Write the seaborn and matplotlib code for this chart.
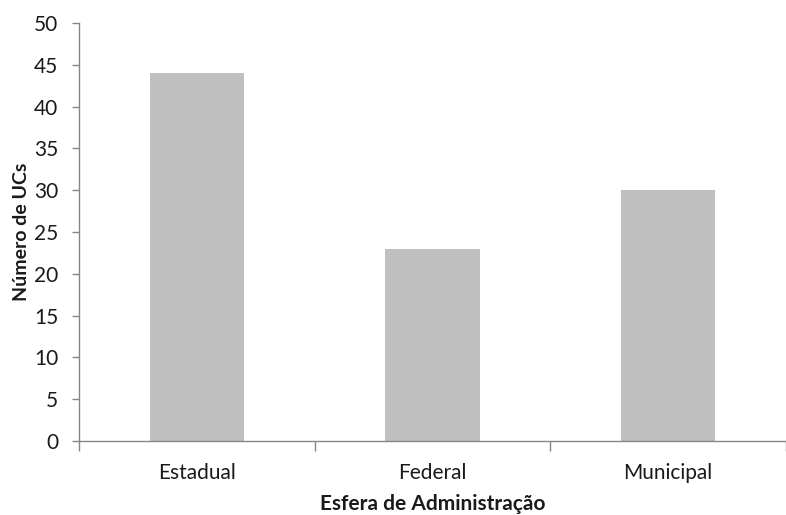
import matplotlib
matplotlib.use("Agg")
import matplotlib.pyplot as plt
from matplotlib.ticker import FixedLocator
import seaborn as sns
import pandas as pd

esferas = ["Estadual", "Federal", "Municipal"]
num_ucs = [44, 23, 30]
y_ticks = [0, 5, 10, 15, 20, 25, 30, 35, 40, 45, 50]

sns.set_theme(style="white")
plt.rcParams["font.family"] = ["Lato", "DejaVu Sans"]

df = pd.DataFrame({"esfera": esferas, "ucs": num_ucs})

fig = plt.figure(figsize=(7.86, 5.15), dpi=100)
ax = fig.add_axes([79 / 786, 1 - 441 / 515, 707 / 786, (441 - 23) / 515])

sns.barplot(data=df, x="esfera", y="ucs", color="#BFBFBF", saturation=1,
            width=0.4, ax=ax, edgecolor="none")

axis_color = "#868686"
text_color = "#1a1a1a"
fs = 15

ax.set_xlim(-0.5, len(esferas) - 0.5)
ax.set_ylim(0, 50)
ax.set_yticks(y_ticks)
ax.set_yticklabels([str(t) for t in y_ticks], fontsize=fs, color=text_color)

for side in ("top", "right"):
    ax.spines[side].set_visible(False)
for side in ("left", "bottom"):
    ax.spines[side].set_color(axis_color)
    ax.spines[side].set_linewidth(1.0)

ax.tick_params(axis="y", which="major", left=True, length=5, width=1,
               color=axis_color, direction="out", pad=10)
ax.tick_params(axis="x", which="major", bottom=False, length=0, pad=16,
               labelsize=fs, labelcolor=text_color)
ax.xaxis.set_minor_locator(FixedLocator([-0.5, 0.5, 1.5, 2.5]))
ax.tick_params(axis="x", which="minor", bottom=True, length=7, width=1,
               color=axis_color, direction="out")

ax.set_xlabel("Esfera de Administração", fontsize=fs, fontweight="bold",
              color=text_color, labelpad=8)
ax.set_ylabel("Número de UCs", fontsize=14, fontweight="bold",
              color=text_color, labelpad=3)
ax.grid(False)

fig.savefig("out.png", dpi=100)
